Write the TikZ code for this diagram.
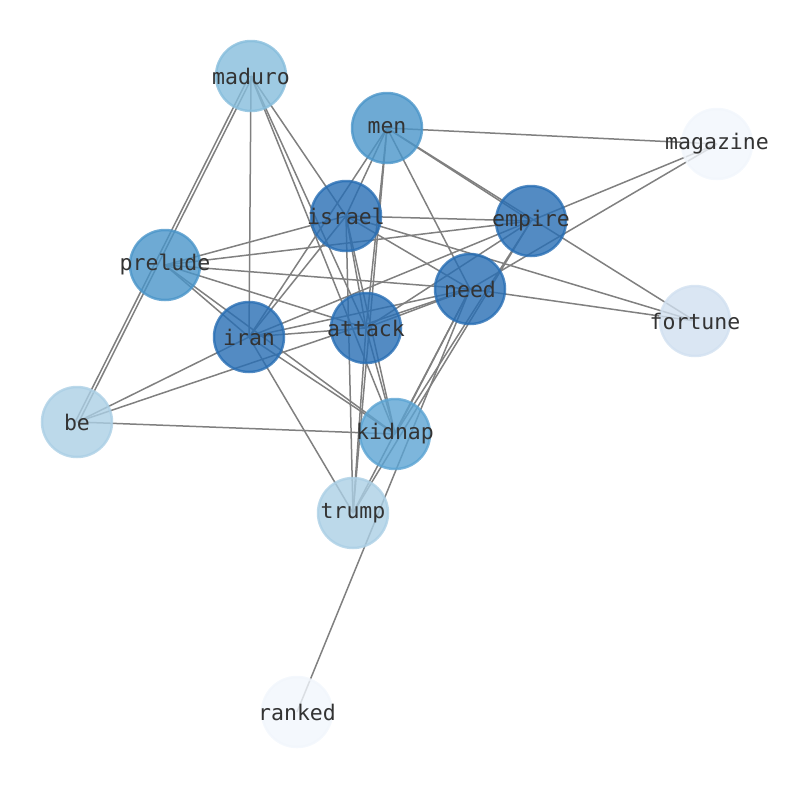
\documentclass[tikz,border=0pt]{standalone}
\usepackage{fontspec}
\setmonofont{DejaVu Sans Mono}
\usetikzlibrary{backgrounds}
\definecolor{blueA}{RGB}{40,110,180}
\definecolor{blueB}{RGB}{74,149,201}
\definecolor{blueC}{RGB}{92,164,211}
\definecolor{blueD}{RGB}{134,189,220}
\definecolor{blueE}{RGB}{171,207,229}
\definecolor{blueF}{RGB}{209,224,240}
\definecolor{blueG}{RGB}{241,246,252}
\definecolor{edgegray}{RGB}{128,128,128}
\newcommand{\lbl}[1]{\makebox[0pt]{#1}}
\tikzset{
  word/.style={circle,minimum size=70pt,inner sep=0pt,fill=#1,draw=#1,
    line width=2.5pt,fill opacity=0.8,draw opacity=0.8,text opacity=1,
    text=black!80,font=\ttfamily\fontsize{21.5}{24}\selectfont},
  link/.style={draw=edgegray,line width=1.5pt}
}
\begin{document}
\begin{tikzpicture}[x=1pt,y=-1pt]
      \useasboundingbox (0,0) rectangle (794,790);
      \draw
        (251,76) node[word=blueD] (maduro){\lbl{maduro}}
        (387,128) node[word=blueB] (men){\lbl{men}}
        (717,144) node[word=blueG] (magazine){\lbl{magazine}}
        (346,216) node[word=blueA] (israel){\lbl{israel}}
        (531,221) node[word=blueA] (empire){\lbl{empire}}
        (165,265) node[word=blueB] (prelude){\lbl{prelude}}
        (470,289) node[word=blueA] (need){\lbl{need}}
        (695,321) node[word=blueF] (fortune){\lbl{fortune}}
        (249,337) node[word=blueA] (iran){\lbl{iran}}
        (366,328) node[word=blueA] (attack){\lbl{attack}}
        (77,422) node[word=blueE] (be){\lbl{be}}
        (395,434) node[word=blueC] (kidnap){\lbl{kidnap}}
        (353,513) node[word=blueE] (trump){\lbl{trump}}
        (297,712) node[word=blueG] (ranked){\lbl{ranked}};
      \begin{scope}[on background layer]
      \begin{scope}[link]
        \draw ([xshift=-1.8pt]maduro.center) to ([xshift=-1.8pt]be.center);
        \draw ([xshift=1.8pt]maduro.center) to ([xshift=1.8pt]be.center);
        \draw (maduro.center) to (iran.center);
        \draw (maduro.center) to (attack.center);
        \draw (maduro.center) to (kidnap.center);
        \draw (maduro.center) to (israel.center);
        \draw (men.center) to (magazine.center);
        \draw (men.center) to (empire.center);
        \draw (men.center) to (fortune.center);
        \draw (men.center) to (need.center);
        \draw (men.center) to (trump.center);
        \draw (men.center) to (attack.center);
        \draw (men.center) to (iran.center);
        \draw (men.center) to (israel.center);
        \draw (israel.center) to (prelude.center);
        \draw (israel.center) to (empire.center);
        \draw (israel.center) to (need.center);
        \draw (israel.center) to (fortune.center);
        \draw (israel.center) to (trump.center);
        \draw (israel.center) to (kidnap.center);
        \draw (israel.center) to (attack.center);
        \draw (israel.center) to (iran.center);
        \draw (empire.center) to (prelude.center);
        \draw (empire.center) to (attack.center);
        \draw (empire.center) to (kidnap.center);
        \draw (empire.center) to (trump.center);
        \draw (magazine.center) to (iran.center);
        \draw (magazine.center) to (need.center);
        \draw (prelude.center) to (need.center);
        \draw (prelude.center) to (attack.center);
        \draw (prelude.center) to (kidnap.center);
        \draw (prelude.center) to (iran.center);
        \draw (need.center) to (fortune.center);
        \draw (need.center) to (be.center);
        \draw (need.center) to (iran.center);
        \draw (need.center) to (attack.center);
        \draw (need.center) to (kidnap.center);
        \draw (need.center) to (trump.center);
        \draw (need.center) to (ranked.center);
        \draw (iran.center) to (be.center);
        \draw (iran.center) to (kidnap.center);
        \draw (iran.center) to (trump.center);
        \draw (iran.center) to (attack.center);
        \draw (attack.center) to (kidnap.center);
        \draw (attack.center) to (trump.center);
        \draw (be.center) to (kidnap.center);
      \end{scope}
      \end{scope}
    \end{tikzpicture}
\end{document}
